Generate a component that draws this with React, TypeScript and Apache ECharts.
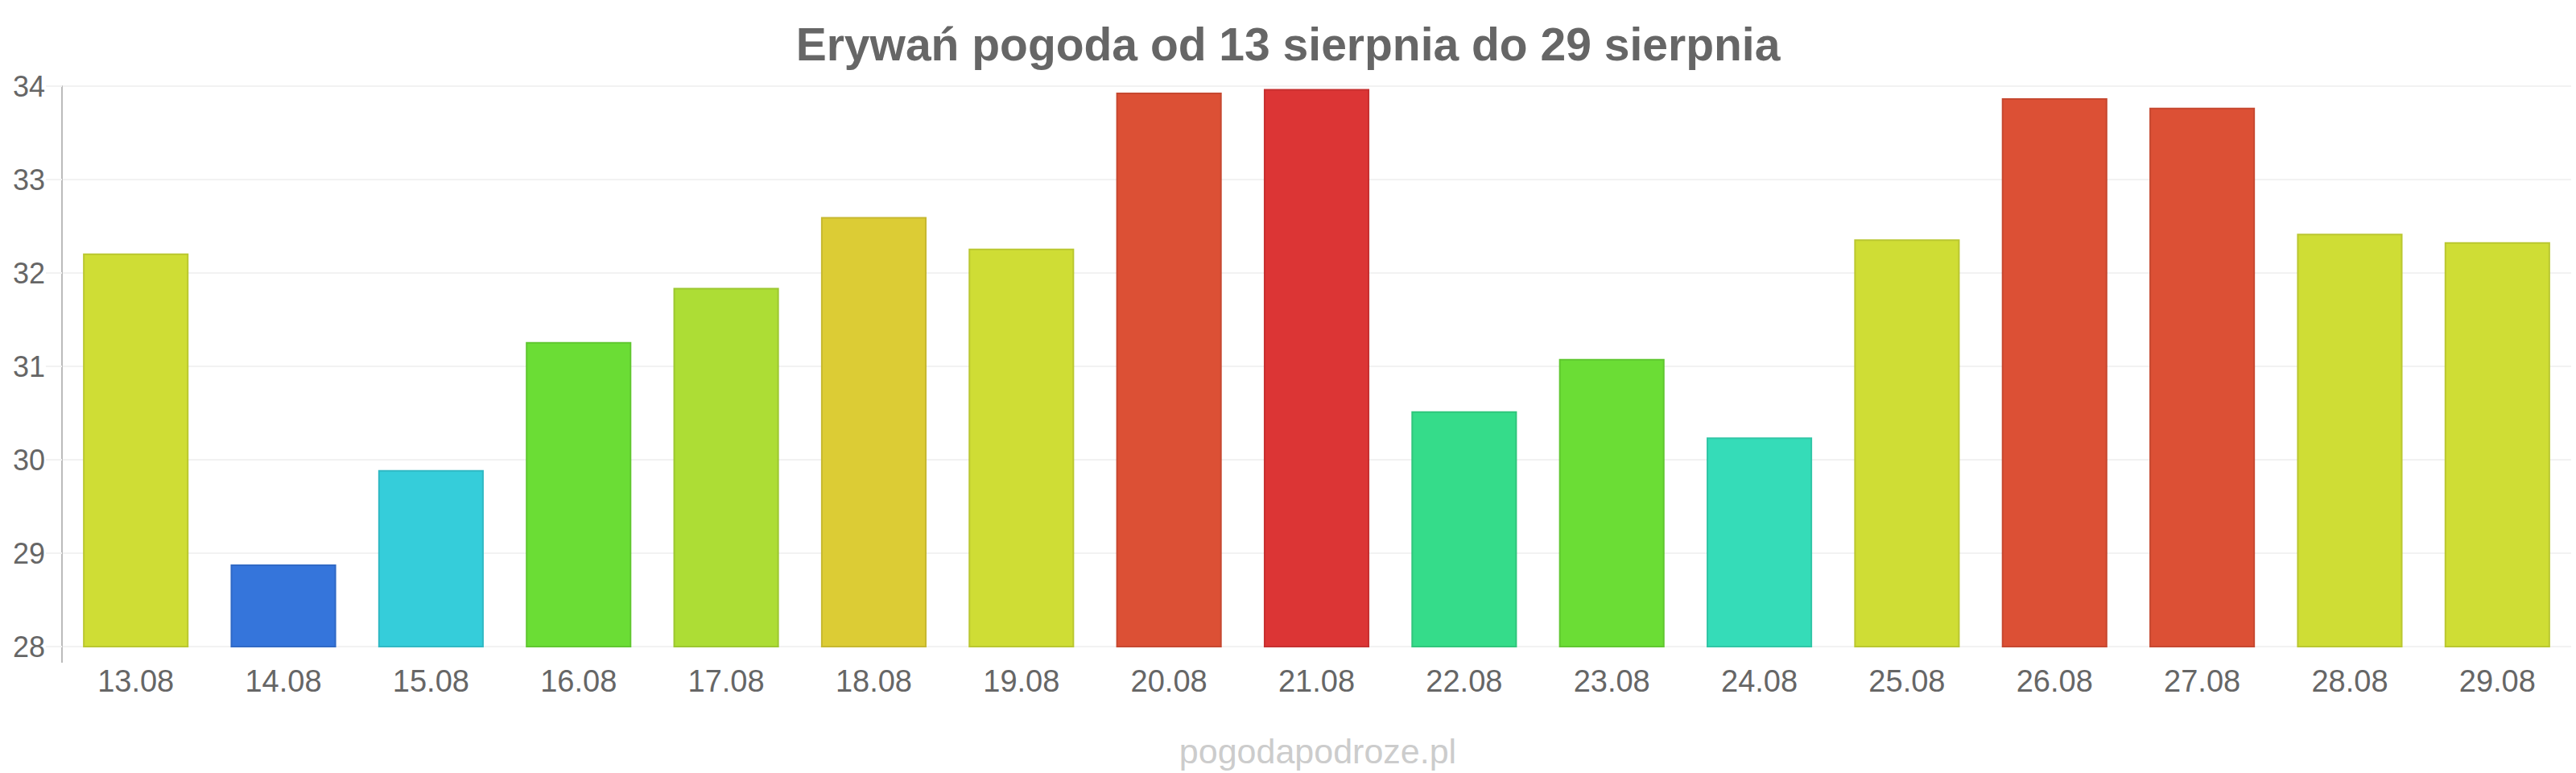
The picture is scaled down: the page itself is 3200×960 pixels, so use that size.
import React, { useEffect, useRef } from "react";
import * as echarts from "echarts";

const TITLE = "Erywań pogoda od 13 sierpnia do 29 sierpnia";
const WATERMARK = "pogodapodroze.pl";

const categories = [
  "13.08", "14.08", "15.08", "16.08", "17.08", "18.08", "19.08", "20.08", "21.08",
  "22.08", "23.08", "24.08", "25.08", "26.08", "27.08", "28.08", "29.08",
];

const temperatures = [
  32.21, 28.88, 29.89, 31.26, 31.84, 32.6, 32.26, 33.93, 33.97,
  30.52, 31.08, 30.24, 32.36, 33.87, 33.77, 32.42, 32.33,
];

const barColors = [
  "#cfdd35", "#3575db", "#35cdda", "#6bdd35", "#addd35", "#dccc35", "#cfdd35", "#dc5035", "#dc3535",
  "#35dc8a", "#6bdd35", "#35dcb8", "#cfdd35", "#dc5035", "#dc5035", "#cfdd35", "#cfdd35",
];

const yTicks = { min: 28, max: 34, interval: 1 };

function darken(hex: string, f: number): string {
  const n = parseInt(hex.slice(1), 16);
  const r = Math.round(((n >> 16) & 255) * f);
  const g = Math.round(((n >> 8) & 255) * f);
  const b = Math.round((n & 255) * f);
  return "#" + [r, g, b].map((v) => v.toString(16).padStart(2, "0")).join("");
}

const FONT = "'Liberation Sans', Arial, sans-serif";

export default function App() {
  const ref = useRef<HTMLDivElement>(null);

  useEffect(() => {
    document.body.style.margin = "0";
    if (!ref.current) return;
    const chart = echarts.init(ref.current, undefined, { renderer: "svg" });
    const GRID_LEFT = 77;
    const GRID_TOP = 107;
    const GRID_BOTTOM = 157;
    chart.setOption({
      animation: false,
      backgroundColor: "#ffffff",
      title: {
        text: TITLE,
        left: "center",
        top: 21,
        textStyle: {
          fontFamily: FONT,
          fontSize: 57,
          fontWeight: "bold",
          color: "#666666",
        },
      },
      grid: {
        left: GRID_LEFT,
        right: 6,
        top: GRID_TOP,
        bottom: GRID_BOTTOM,
        containLabel: false,
      },
      xAxis: {
        type: "category",
        data: categories,
        axisLine: { show: false },
        axisTick: { show: false },
        axisLabel: {
          fontFamily: FONT,
          fontSize: 38,
          color: "#666666",
          margin: 24,
        },
      },
      yAxis: {
        type: "value",
        min: yTicks.min,
        max: yTicks.max,
        interval: yTicks.interval,
        axisLine: { show: true, lineStyle: { color: "#bbbbbb", width: 2 } },
        axisTick: { show: true, length: 20, lineStyle: { color: "#f2f2f2", width: 2 } },
        splitLine: { show: true, lineStyle: { color: "#f2f2f2", width: 2 } },
        axisLabel: {
          fontFamily: FONT,
          fontSize: 36,
          color: "#666666",
          margin: 21,
        },
      },
      series: [
        {
          type: "bar",
          barWidth: "71.5%",
          data: temperatures.map((v, i) => ({
            value: v,
            itemStyle: {
              color: barColors[i],
              borderColor: darken(barColors[i], 0.9),
              borderWidth: 2,
            },
          })),
        },
      ],
      graphic: [
        {
          type: "line",
          shape: { x1: GRID_LEFT, y1: 960 - GRID_BOTTOM, x2: GRID_LEFT, y2: 960 - GRID_BOTTOM + 20 },
          style: { stroke: "#bbbbbb", lineWidth: 2 },
        },
        {
          type: "text",
          x: 1637,
          y: 933,
          style: {
            text: WATERMARK,
            fontFamily: FONT,
            fontSize: 43,
            fill: "#cccccc",
            textAlign: "center",
            textVerticalAlign: "middle",
          },
        },
      ],
    });
    return () => chart.dispose();
  }, []);

  return <div ref={ref} style={{ width: 3200, height: 960 }} />;
}
